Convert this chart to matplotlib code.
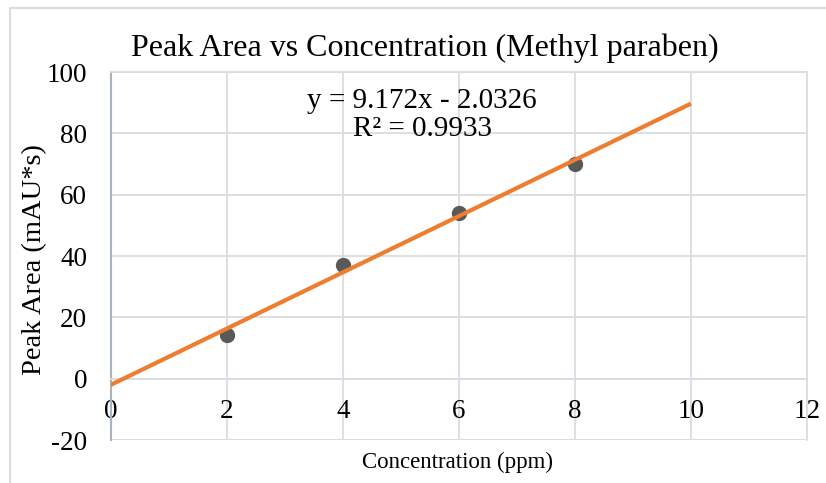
import numpy as np
import matplotlib
matplotlib.use("Agg")
from matplotlib import pyplot as plt
from matplotlib.patches import Rectangle

# donnees
concentration = [2, 4, 6, 8]
aire_pic = [14.35, 37.15, 53.95, 69.86]
pente, ordonnee = 9.172, -2.0326  # courbe de tendance affichee
x_tendance = [0, 10]
x_ticks = [0, 2, 4, 6, 8, 10, 12]
y_ticks = [-20, 0, 20, 40, 60, 80, 100]

plt.rcParams['font.family'] = ['Liberation Serif', 'DejaVu Serif']
plt.rcParams['axes.unicode_minus'] = False

fig = plt.figure(figsize=(8.26, 4.83), dpi=100)
ax = fig.add_axes([110.7 / 826, 1 - 440 / 483, (807 - 110.7) / 826, (440 - 72) / 483])

# cadre exterieur du graphique (style Excel)
fig.patches.append(Rectangle((10 / 826, -0.1), 1.2, 1 - 8 / 483 + 0.1, transform=fig.transFigure,
                             fill=False, edgecolor='#D9DDE3', linewidth=1.5))

grille = '#D9DDE3'
ax.set_xlim(0, 12)
ax.set_ylim(-20, 100)
ax.set_xticks(x_ticks)
ax.set_yticks(y_ticks)
ax.grid(True, color=grille, linewidth=1.3)
ax.set_axisbelow(True)

for s in ['top', 'right']:
    ax.spines[s].set_color(grille)
    ax.spines[s].set_linewidth(1.3)
ax.spines['left'].set_color('#A9B3C1')
ax.spines['left'].set_linewidth(1.5)
ax.spines['bottom'].set_position(('data', 0))
ax.spines['bottom'].set_color(grille)
ax.spines['bottom'].set_linewidth(1.3)
# ligne du bas a -20
ax.axhline(-20, color=grille, linewidth=1.3, zorder=0)

ax.tick_params(axis='both', length=0, labelsize=19.5)
ax.tick_params(axis='x', pad=15)
ax.tick_params(axis='y', pad=17)

xt = np.array(x_tendance, dtype=float)
ax.plot(xt, pente * xt + ordonnee, color='#ED7D31', linewidth=3, zorder=3,
        solid_capstyle='butt')
ax.plot(concentration, aire_pic, 'o', color='#595959', markersize=10, zorder=2)

ax.text(5.37, 86, 'y = 9.172x - 2.0326\nR² = 0.9933', ha='center', va='center',
        fontsize=21, linespacing=1.1)

fig.text(425 / 826, 1 - 48 / 483, 'Peak Area vs Concentration (Methyl paraben)',
         ha='center', va='center', fontsize=23)
fig.text(458 / 826, 1 - 462 / 483, 'Concentration (ppm)', ha='center', va='center', fontsize=16.5)
fig.text(35 / 826, 1 - 260 / 483, 'Peak Area (mAU*s)', ha='center', va='center',
         fontsize=20.5, rotation=90)

fig.savefig('out.png', dpi=100)
